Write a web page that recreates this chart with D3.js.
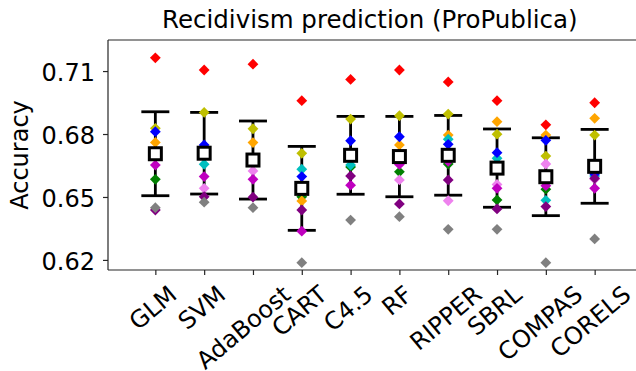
<!DOCTYPE html>
<html>
<head>
<meta charset="utf-8">
<script src="https://cdn.jsdelivr.net/npm/d3@7"></script>
<style>
  html, body { margin: 0; padding: 0; background: #fff; }
  svg { display: block; font-family: "DejaVu Sans", sans-serif; }
</style>
</head>
<body>
<svg id="chart" width="636" height="371"></svg>
<script>
// ---- data ----
const categories = ["GLM", "SVM", "AdaBoost", "CART", "C4.5", "RF", "RIPPER", "SBRL", "COMPAS", "CORELS"];
const foldColors = ["#ff0000", "#008000", "#ffa500", "#bfbf00", "#00bfbf", "#0000ff", "#ee82ee", "#bf00bf", "#800080", "#808080"];
const foldRed     = [0.7163, 0.7105, 0.7133, 0.6959, 0.7060, 0.7105, 0.7048, 0.6959, 0.6844, 0.6949];
const foldGreen   = [0.6584, 0.6706, 0.6676, 0.6501, 0.6643, 0.6620, 0.6657, 0.6486, 0.6537, 0.6620];
const foldOrange  = [0.6760, 0.6712, 0.6759, 0.6481, 0.6700, 0.6748, 0.6795, 0.6859, 0.6795, 0.6875];
const foldYellow  = [0.6827, 0.6903, 0.6825, 0.6708, 0.6871, 0.6887, 0.6895, 0.6799, 0.6695, 0.6795];
const foldCyan    = [0.6706, 0.6656, 0.6674, 0.6632, 0.6652, 0.6693, 0.6775, 0.6684, 0.6484, 0.6600];
const foldBlue    = [0.6811, 0.6748, 0.6680, 0.6597, 0.6768, 0.6787, 0.6751, 0.6711, 0.6770, 0.6610];
const foldViolet  = [0.6710, 0.6541, 0.6624, 0.6541, 0.6697, 0.6581, 0.6482, 0.6560, 0.6657, 0.6585];
const foldMagenta = [0.6652, 0.6597, 0.6584, 0.6337, 0.6556, 0.6655, 0.6670, 0.6541, 0.6554, 0.6541];
const foldPurple  = [0.6438, 0.6501, 0.6499, 0.6438, 0.6600, 0.6467, 0.6581, 0.6443, 0.6454, 0.6589];
const foldGray    = [0.6449, 0.6475, 0.6449, 0.6187, 0.6390, 0.6406, 0.6346, 0.6346, 0.6187, 0.6300];
const meanAcc = [0.6706, 0.67085, 0.6676, 0.6541, 0.66985, 0.66925, 0.66985, 0.66375, 0.65965, 0.6646];
const stdAcc  = [0.0200, 0.01945, 0.0186, 0.0200, 0.01855, 0.01915, 0.0190, 0.01865, 0.01855, 0.0176];
const yTicks = [0.62, 0.65, 0.68, 0.71];
const titleText = "Recidivism prediction (ProPublica)";
const yLabel = "Accuracy";

const folds = [foldRed, foldGreen, foldOrange, foldYellow, foldCyan, foldBlue, foldViolet, foldMagenta, foldPurple, foldGray];

(function draw() {
  const svg = d3.select("#chart");
  svg.append("rect").attr("width", 636).attr("height", 371).attr("fill", "#fff");
  const pL = 108, pT = 40, pB = 270, pR = 642;
  const x = d3.scaleLinear().domain([-0.97, 9.97]).range([pL, pR]);
  const y = d3.scaleLinear().domain([0.6152, 0.7248]).range([pB, pT]);
  const FS = 24;

  // spines (left, top, bottom)
  const spine = svg.append("g").attr("stroke", "#262626").attr("stroke-width", 1.2).attr("fill", "none");
  spine.append("line").attr("x1", pL).attr("x2", pL).attr("y1", pT).attr("y2", pB);
  spine.append("line").attr("x1", pL).attr("x2", pR).attr("y1", pT).attr("y2", pT);
  spine.append("line").attr("x1", pL).attr("x2", pR).attr("y1", pB).attr("y2", pB);

  // y axis
  const yAxis = d3.axisLeft(y).tickValues(yTicks).tickFormat(d3.format(".2f")).tickSize(5).tickPadding(8);
  const gy = svg.append("g").attr("transform", `translate(${pL},0)`).call(yAxis);
  gy.select(".domain").remove();
  gy.selectAll(".tick line").attr("stroke", "#262626").attr("stroke-width", 1.2);
  gy.selectAll(".tick text").attr("font-size", FS).attr("fill", "#000")
    .attr("font-family", "DejaVu Sans").attr("dy", "0.38em");

  // x axis
  const xAxis = d3.axisBottom(x).tickValues(d3.range(categories.length)).tickFormat(i => categories[i]).tickSize(5);
  const gx = svg.append("g").attr("transform", `translate(0,${pB})`).call(xAxis);
  gx.select(".domain").remove();
  gx.selectAll(".tick line").attr("stroke", "#262626").attr("stroke-width", 1.2);
  const ang = 40 * Math.PI / 180;
  gx.selectAll(".tick text")
    .attr("font-size", FS).attr("fill", "#000").attr("font-family", "DejaVu Sans")
    .attr("text-anchor", "middle").attr("dy", "0.35em").attr("y", 0)
    .each(function() {
      const L = this.getComputedTextLength();
      const h = FS * 1.16;
      const bh = L * Math.sin(ang) + h * Math.cos(ang);
      const cy = 10 + bh / 2;
      const cxo = -3 - Math.max(0, L - 90) * 0.3;
      d3.select(this).attr("transform", `translate(${cxo},${cy}) rotate(-40)`);
    });

  // error bars
  const eb = svg.append("g").attr("stroke", "#000").attr("stroke-width", 2.8);
  categories.forEach((c, i) => {
    const cx = x(i);
    const y1 = y(meanAcc[i] + stdAcc[i]), y0 = y(meanAcc[i] - stdAcc[i]);
    eb.append("line").attr("x1", cx).attr("x2", cx).attr("y1", y1).attr("y2", y0);
    eb.append("line").attr("x1", cx - 14).attr("x2", cx + 14).attr("y1", y1).attr("y2", y1);
    eb.append("line").attr("x1", cx - 14).attr("x2", cx + 14).attr("y1", y0).attr("y2", y0);
  });

  // fold diamonds
  const dsz = 5.4;
  const diamond = `M0,${-dsz}L${dsz},0L0,${dsz}L${-dsz},0Z`;
  const gd = svg.append("g");
  folds.forEach((vals, f) => {
    gd.selectAll(null).data(vals).enter().append("path")
      .attr("d", diamond)
      .attr("transform", (v, i) => `translate(${x(i)},${y(v)})`)
      .attr("fill", foldColors[f]);
  });

  // mean squares
  svg.append("g").selectAll("rect").data(meanAcc).enter().append("rect")
    .attr("x", (v, i) => x(i) - 6).attr("y", v => y(v) - 6)
    .attr("width", 12).attr("height", 12)
    .attr("fill", "#fff").attr("stroke", "#000").attr("stroke-width", 3);

  // title
  svg.append("text").attr("x", 162).attr("y", 28)
    .attr("font-size", 24.5).attr("fill", "#000").attr("text-anchor", "start")
    .text(titleText);

  // y label
  svg.append("text").attr("transform", "translate(28,155) rotate(-90)")
    .attr("font-size", FS).attr("fill", "#000").attr("text-anchor", "middle")
    .text(yLabel);
})();
</script>
</body>
</html>
